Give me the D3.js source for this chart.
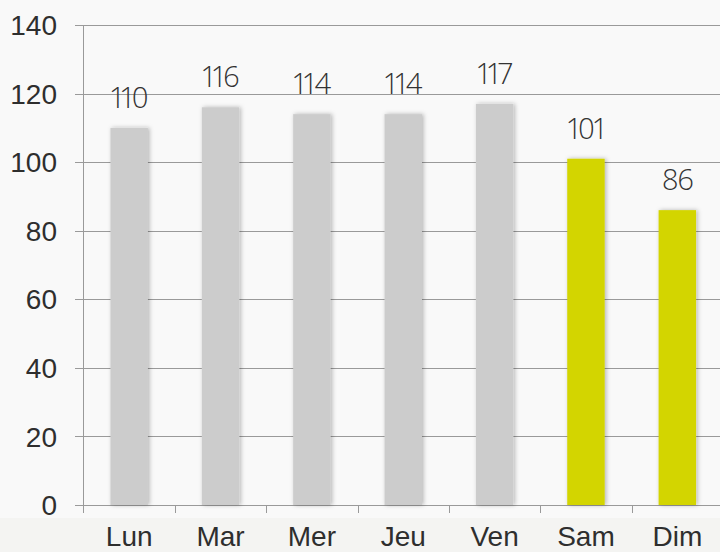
<!DOCTYPE html>
<html>
<head>
<meta charset="utf-8">
<script src="https://cdn.jsdelivr.net/npm/d3@7"></script>
<style>
  html, body { margin: 0; padding: 0; background: #f9f9f9; }
  svg { display: block; }
</style>
</head>
<body>
<svg id="area" width="720" height="552"></svg>
<script>
const days = ['Lun', 'Mar', 'Mer', 'Jeu', 'Ven', 'Sam', 'Dim'];
const values = [110, 116, 114, 114, 117, 101, 86];
const weekend = ['Sam', 'Dim'];
const yTicks = [0, 20, 40, 60, 80, 100, 120, 140];

const svg = d3.select('#area');
const width = 720;
const height = 552;

const x = d3.scaleBand(days, [83.5, 723]).paddingInner(0.59).paddingOuter(0.295);
const y = d3.scaleLinear([0, 140], [505, 25]);

// background
svg.append('rect').attr('width', width).attr('height', height).attr('fill', '#f9f9f9');
svg.append('rect').attr('y', 518).attr('width', width).attr('height', height - 518).attr('fill', '#f4f4f2');

// shadow
svg.append('defs').append('filter')
  .attr('id', 'shadow')
  .attr('x', '-30%').attr('y', '-10%').attr('width', '160%').attr('height', '120%')
  .append('feDropShadow')
  .attr('dx', 1.5).attr('dy', 0).attr('stdDeviation', 2)
  .attr('flood-color', '#000').attr('flood-opacity', 0.28);

// grid
svg.append('g')
  .attr('stroke', '#9a9a9a')
  .attr('stroke-width', 1)
  .selectAll('line')
  .data(yTicks)
  .join('line')
  .attr('x1', 75)
  .attr('x2', width)
  .attr('y1', (d) => Math.round(y(d)) + 0.5)
  .attr('y2', (d) => Math.round(y(d)) + 0.5);

// y axis line
svg.append('line')
  .attr('x1', 83.5).attr('x2', 83.5)
  .attr('y1', y(140)).attr('y2', 513)
  .attr('stroke', '#9a9a9a');

// x ticks between bands
const step = x.step();
svg.append('g')
  .attr('stroke', '#9a9a9a')
  .selectAll('line')
  .data(days.slice(1))
  .join('line')
  .attr('x1', (d) => Math.round(x(d) - x.paddingInner() * step / 2) + 0.5)
  .attr('x2', (d) => Math.round(x(d) - x.paddingInner() * step / 2) + 0.5)
  .attr('y1', 505.5)
  .attr('y2', 513);

// y labels
svg.append('g').selectAll('text')
  .data(yTicks)
  .join('text')
  .attr('x', 57)
  .attr('y', (d) => y(d))
  .attr('dy', '0.36em')
  .attr('text-anchor', 'end')
  .attr('fill', '#2e2e2e')
  .style('font', '28px "Liberation Sans", Arial, sans-serif')
  .text((d) => d);

// bars
svg.append('g')
  .selectAll('rect')
  .data(values)
  .join('rect')
  .attr('x', (d, i) => x(days[i]))
  .attr('width', x.bandwidth())
  .attr('y', (d) => y(d))
  .attr('height', (d) => y(0) - y(d))
  .attr('fill', (d, i) => (weekend.includes(days[i]) ? '#d3d500' : '#cccccc'))
  .attr('filter', 'url(#shadow)');

// value labels
svg.append('g').selectAll('text')
  .data(values)
  .join('text')
  .attr('x', (d, i) => x(days[i]) + x.bandwidth() / 2)
  .attr('y', (d) => y(d) - 20)
  .attr('text-anchor', 'middle')
  .attr('fill', '#333')
  .style('font-family', '"Open Sans", sans-serif')
  .style('font-weight', 300)
  .style('font-size', '29px')
  .style('font-variant-numeric', 'proportional-nums')
  .style('letter-spacing', '-1px')
  .text((d) => d);

// x labels
svg.append('g').selectAll('text')
  .data(days)
  .join('text')
  .attr('x', (d) => x(d) + x.bandwidth() / 2)
  .attr('y', 546)
  .attr('text-anchor', 'middle')
  .attr('fill', '#2e2e2e')
  .style('font', '28px "Liberation Sans", Arial, sans-serif')
  .text((d) => d);
</script>
</body>
</html>
